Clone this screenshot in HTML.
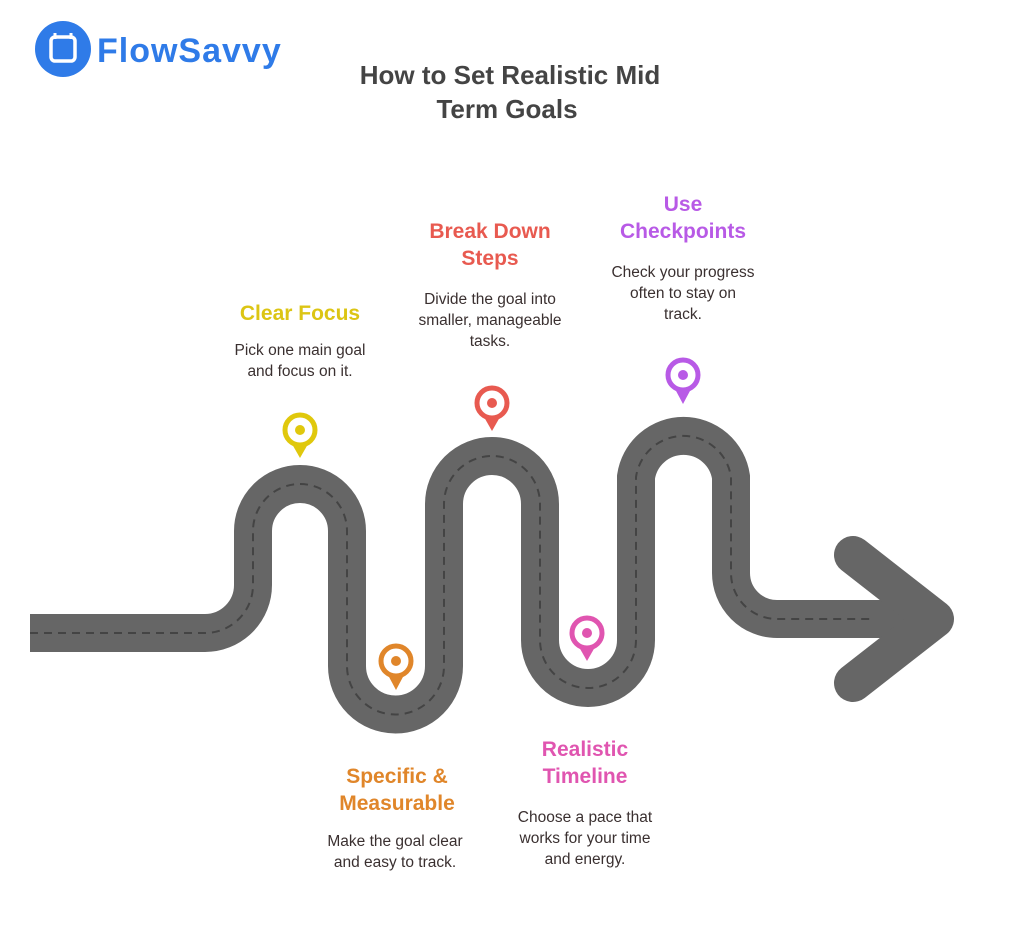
<!DOCTYPE html>
<html><head><meta charset="utf-8"><style>
body{margin:0;width:1024px;height:927px;background:#fff;overflow:hidden;font-family:"Liberation Sans",Arial,sans-serif;position:relative}
.t{position:absolute;text-align:center;font-weight:bold;font-size:21px;line-height:27px}
.d{position:absolute;text-align:center;font-size:15.5px;line-height:21px;color:#3a3030}
</style></head><body>
<svg width="1024" height="927" style="position:absolute;left:0;top:0">
<circle cx="63" cy="49" r="28" fill="#2f7be8"/>
<rect x="51" y="37" width="24" height="24" rx="4" fill="none" stroke="#fff" stroke-width="3.5"/>
<path d="M55 33v6M71 33v6" stroke="#fff" stroke-width="3"/>
<text x="97" y="62" font-family="Liberation Sans,sans-serif" font-weight="bold" font-size="34" fill="#2f7be8" letter-spacing="1">FlowSavvy</text>
<text x="510" y="84" text-anchor="middle" font-family="Liberation Sans,sans-serif" font-weight="bold" font-size="26" fill="#444">How to Set Realistic Mid</text>
<text x="507" y="118" text-anchor="middle" font-family="Liberation Sans,sans-serif" font-weight="bold" font-size="26" fill="#444">Term Goals</text>
<g fill="none" stroke="#666" stroke-width="38">
<path d="M30 633H205A48 48 0 0 0 253 585V531A47 47 0 0 1 347 531V666A48 48 0 0 0 444 666V504A48 48 0 0 1 540 504V640A48 48 0 0 0 636 640V477A48 48 0 0 1 731 477V573A46 46 0 0 0 777 619H925"/>
<path d="M853 555L935 619L853 683" stroke-linecap="round" stroke-linejoin="round"/>
</g>
<path d="M30 633H205A48 48 0 0 0 253 585V531A47 47 0 0 1 347 531V666A48 48 0 0 0 444 666V504A48 48 0 0 1 540 504V640A48 48 0 0 0 636 640V477A48 48 0 0 1 731 477V573A46 46 0 0 0 777 619H870" fill="none" stroke="#444" stroke-width="2" stroke-dasharray="8 6"/>
<g fill="#e0c80c"><circle cx="300" cy="430" r="15" fill="none" stroke="#e0c80c" stroke-width="5"/><circle cx="300" cy="430" r="5"/><path d="M292 444L300 458L308 444Z"/></g>
<g fill="#e0862a"><circle cx="396" cy="661" r="15" fill="none" stroke="#e0862a" stroke-width="5"/><circle cx="396" cy="661" r="5"/><path d="M388 675L396 690L404 675Z"/></g>
<g fill="#e85a50"><circle cx="492" cy="403" r="15" fill="none" stroke="#e85a50" stroke-width="5"/><circle cx="492" cy="403" r="5"/><path d="M484 417L492 431L500 417Z"/></g>
<g fill="#e055b0"><circle cx="587" cy="633" r="15" fill="none" stroke="#e055b0" stroke-width="5"/><circle cx="587" cy="633" r="5"/><path d="M579 647L587 661L595 647Z"/></g>
<g fill="#b85ae6"><circle cx="683" cy="375" r="15" fill="none" stroke="#b85ae6" stroke-width="5"/><circle cx="683" cy="375" r="5"/><path d="M675 389L683 404L691 389Z"/></g>
</svg>
<div class="t" style="left:200px;width:200px;top:300px;color:#dcc514">Clear Focus</div>
<div class="d" style="left:200px;width:200px;top:340px">Pick one main goal<br>and focus on it.</div>
<div class="t" style="left:390px;width:200px;top:218px;color:#e85a50">Break Down<br>Steps</div>
<div class="d" style="left:390px;width:200px;top:289px">Divide the goal into<br>smaller, manageable<br>tasks.</div>
<div class="t" style="left:583px;width:200px;top:191px;color:#b85ae6">Use<br>Checkpoints</div>
<div class="d" style="left:583px;width:200px;top:262px">Check your progress<br>often to stay on<br>track.</div>
<div class="t" style="left:297px;width:200px;top:763px;color:#e0862a">Specific &amp;<br>Measurable</div>
<div class="d" style="left:295px;width:200px;top:831px">Make the goal clear<br>and easy to track.</div>
<div class="t" style="left:485px;width:200px;top:736px;color:#e055b0">Realistic<br>Timeline</div>
<div class="d" style="left:485px;width:200px;top:807px">Choose a pace that<br>works for your time<br>and energy.</div>
</body></html>
